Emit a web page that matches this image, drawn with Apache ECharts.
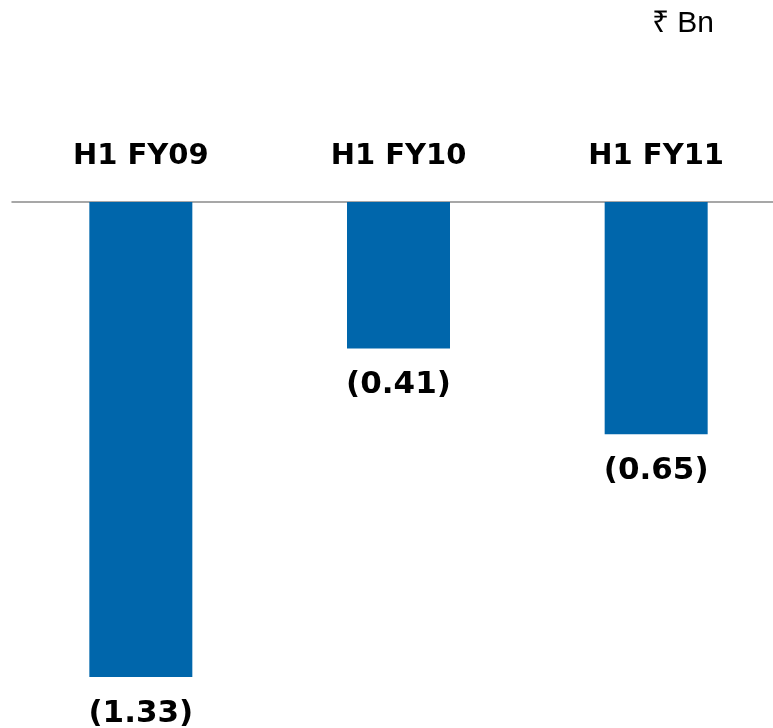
<!DOCTYPE html>
<html><head><meta charset="utf-8">
<script src="https://cdn.jsdelivr.net/npm/echarts@6/dist/echarts.min.js"></script>
<style>html,body{margin:0;padding:0;background:#fff}#c{width:773px;height:728px}</style>
</head><body><div id="c"></div>
<script>
const categories = ['H1 FY09', 'H1 FY10', 'H1 FY11'];
const values = [-1.33, -0.41, -0.65];
const unitLabel = '₹ Bn';

const chart = echarts.init(document.getElementById('c'), null, {renderer: 'canvas'});
chart.setOption({
  animation: false,
  backgroundColor: '#ffffff',
  title: {
    text: unitLabel, right: 54, top: 4,
    textStyle: {fontFamily: 'Liberation Sans, Arial, sans-serif', fontWeight: 'normal', fontSize: 30, color: '#000'}
  },
  grid: {left: 12, top: 202, width: 773, bottom: 26, outerBoundsMode: 'none', containLabel: false},
  xAxis: {
    type: 'category', position: 'top', data: categories,
    axisLine: {show: true, lineStyle: {color: '#8a8a8a', width: 1.5}},
    axisTick: {show: false},
    axisLabel: {margin: 31, fontFamily: 'DejaVu Sans, Verdana, sans-serif', fontWeight: 'bold', fontSize: 29, color: '#000'}
  },
  yAxis: {type: 'value', min: -1.4, max: 0, show: false, splitLine: {show: false}},
  series: [{
    type: 'bar', data: values, barWidth: 103,
    itemStyle: {color: '#0066AB'},
    label: {
      show: true, position: 'bottom', distance: 21,
      fontFamily: 'DejaVu Sans, Verdana, sans-serif', fontWeight: 'bold', fontSize: 31, color: '#000',
      formatter: p => '(' + Math.abs(p.value).toFixed(2) + ')'
    }
  }]
});
</script></body></html>
